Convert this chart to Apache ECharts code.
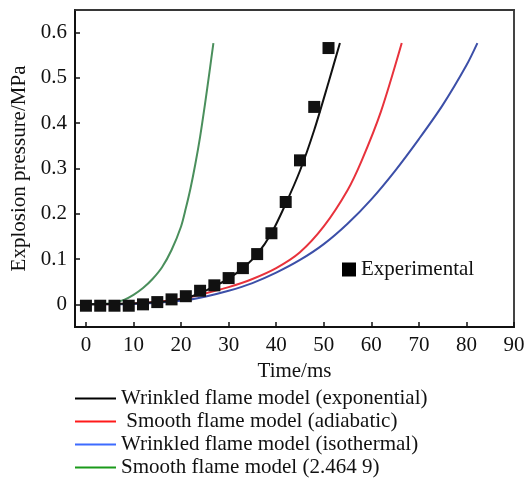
<!DOCTYPE html>
<html>
<head>
<meta charset="utf-8">
<script src="https://cdn.jsdelivr.net/npm/echarts@6/dist/echarts.min.js"></script>
<style>html,body{margin:0;padding:0;background:#fff;}#c{width:531px;height:478px;}</style>
</head>
<body>
<div id="c"></div>
<script>
var xTicks = [0,10,20,30,40,50,60,70,80,90];
var yTicks = [0,0.1,0.2,0.3,0.4,0.5,0.6];

var expT = [0,3,6,9,12,15,18,21,24,27,30,33,36,39,42,45,48,51];
var expP = [-0.003,-0.003,-0.003,-0.003,0.000,0.005,0.011,0.018,0.030,0.042,0.058,0.080,0.111,0.157,0.226,0.318,0.436,0.566];

var blackT = [0,5,10,15,20,24,27,30,33,36,39,42,45,48,51,53.4];
var blackP = [0,0.001,0.002,0.005,0.012,0.024,0.040,0.057,0.080,0.111,0.157,0.222,0.295,0.385,0.49,0.577];

var redT = [0,10,20,25,30,35,40,45,50,55,58,62,66.4];
var redP = [0,0.002,0.012,0.024,0.038,0.056,0.080,0.115,0.172,0.252,0.318,0.425,0.577];

var blueT = [0,10,20,25,30,35,40,45,50,55,60,65,70,75,80,82.3];
var blueP = [0,0.001,0.008,0.017,0.030,0.047,0.070,0.098,0.133,0.178,0.232,0.295,0.365,0.440,0.528,0.577];

var greenT = [0,5,8,10,12,14,16,18,20,21,22,23,24,25,26,26.8];
var greenP = [0,0.002,0.010,0.021,0.036,0.056,0.082,0.120,0.172,0.212,0.257,0.310,0.370,0.440,0.515,0.577];

var names = ['Wrinkled flame model (exponential)','Smooth flame model (adiabatic)','Wrinkled flame model (isothermal)','Smooth flame model (2.464 9)'];

function pairs(t, p){ return t.map(function(v,i){ return [v, p[i]]; }); }

var font = 'Liberation Serif, Times New Roman, serif';
var chart = echarts.init(document.getElementById('c'), null, {renderer:'canvas'});
chart.setOption({
  backgroundColor:'#fff',
  animation:false,
  grid:{left:75, top:10, right:17, bottom:151, show:true, borderColor:'#444', borderWidth:2, backgroundColor:'transparent'},
  xAxis:[{
    type:'value', min:-2.3, max:90,
    name:'Time/ms', nameLocation:'middle', nameGap:28,
    nameTextStyle:{fontFamily:font, fontSize:21, color:'#111'},
    axisLine:{show:true, onZero:false, lineStyle:{color:'#111', width:2}},
    axisTick:{show:true, inside:true, length:5, customValues:xTicks, lineStyle:{color:'#111', width:1.5}},
    axisLabel:{customValues:xTicks, fontFamily:font, fontSize:21, color:'#111', margin:8},
    splitLine:{show:false}
  },{
    type:'value', min:-2.3, max:90, position:'top',
    axisLine:{show:true, onZero:false, lineStyle:{color:'#333', width:1.5}},
    axisTick:{show:false}, axisLabel:{show:false}, splitLine:{show:false}
  }],
  yAxis:[{
    type:'value', min:-0.05, max:0.65,
    name:'Explosion pressure/MPa', nameLocation:'middle', nameGap:38,
    nameTextStyle:{fontFamily:font, fontSize:21, color:'#111'},
    axisLine:{show:true, onZero:false, lineStyle:{color:'#111', width:2}},
    axisTick:{show:true, inside:true, length:5, customValues:yTicks, lineStyle:{color:'#111', width:1.5}},
    axisLabel:{customValues:yTicks, fontFamily:font, fontSize:21, color:'#111', margin:8,
      formatter:function(v){ return v===0 ? '0' : v.toFixed(1); }},
    splitLine:{show:false}
  },{
    type:'value', min:-0.05, max:0.65, position:'right',
    axisLine:{show:true, onZero:false, lineStyle:{color:'#444', width:2}},
    axisTick:{show:false}, axisLabel:{show:false}, splitLine:{show:false}
  }],
  legend:[
    {
      orient:'vertical', left:70, top:383, height:100, itemWidth:41, itemHeight:2, itemGap:2,
      icon:'rect',
      textStyle:{fontFamily:font, fontSize:21, color:'#111'},
      formatter:function(n){ return n===names[1] ? ' '+n : n; },
      data:[
        {name:names[0], itemStyle:{color:'#000'}},
        {name:names[1], itemStyle:{color:'#ff1a1a'}},
        {name:names[2], itemStyle:{color:'#3d6bff'}},
        {name:names[3], itemStyle:{color:'#1a9a1a'}}
      ],
      selectedMode:false
    },
    {
      left:337, top:254, itemWidth:14, itemHeight:14, icon:'rect',
      textStyle:{fontFamily:font, fontSize:21, color:'#111'},
      data:[{name:'Experimental', itemStyle:{color:'#000', opacity:1}}], selectedMode:false
    }
  ],
  series:[
    {name:names[0], type:'line', smooth:0.3, symbol:'none', data:pairs(blackT, blackP), lineStyle:{color:'#111', width:2}, itemStyle:{color:'#000'}, z:3},
    {name:names[1], type:'line', smooth:0.3, symbol:'none', data:pairs(redT, redP), lineStyle:{color:'#e8323c', width:2}, itemStyle:{color:'#ff1a1a'}, z:2},
    {name:names[2], type:'line', smooth:0.3, symbol:'none', data:pairs(blueT, blueP), lineStyle:{color:'#3c4fa8', width:2}, itemStyle:{color:'#3d6bff'}, z:2},
    {name:names[3], type:'line', smooth:0.3, symbol:'none', data:pairs(greenT, greenP), lineStyle:{color:'#4a8f5c', width:2}, itemStyle:{color:'#1a9a1a'}, z:2},
    {name:'Experimental', type:'scatter', symbol:'rect', symbolSize:12, data:pairs(expT, expP), itemStyle:{color:'#111', opacity:1}, z:4}
  ]
});
</script>
</body>
</html>
